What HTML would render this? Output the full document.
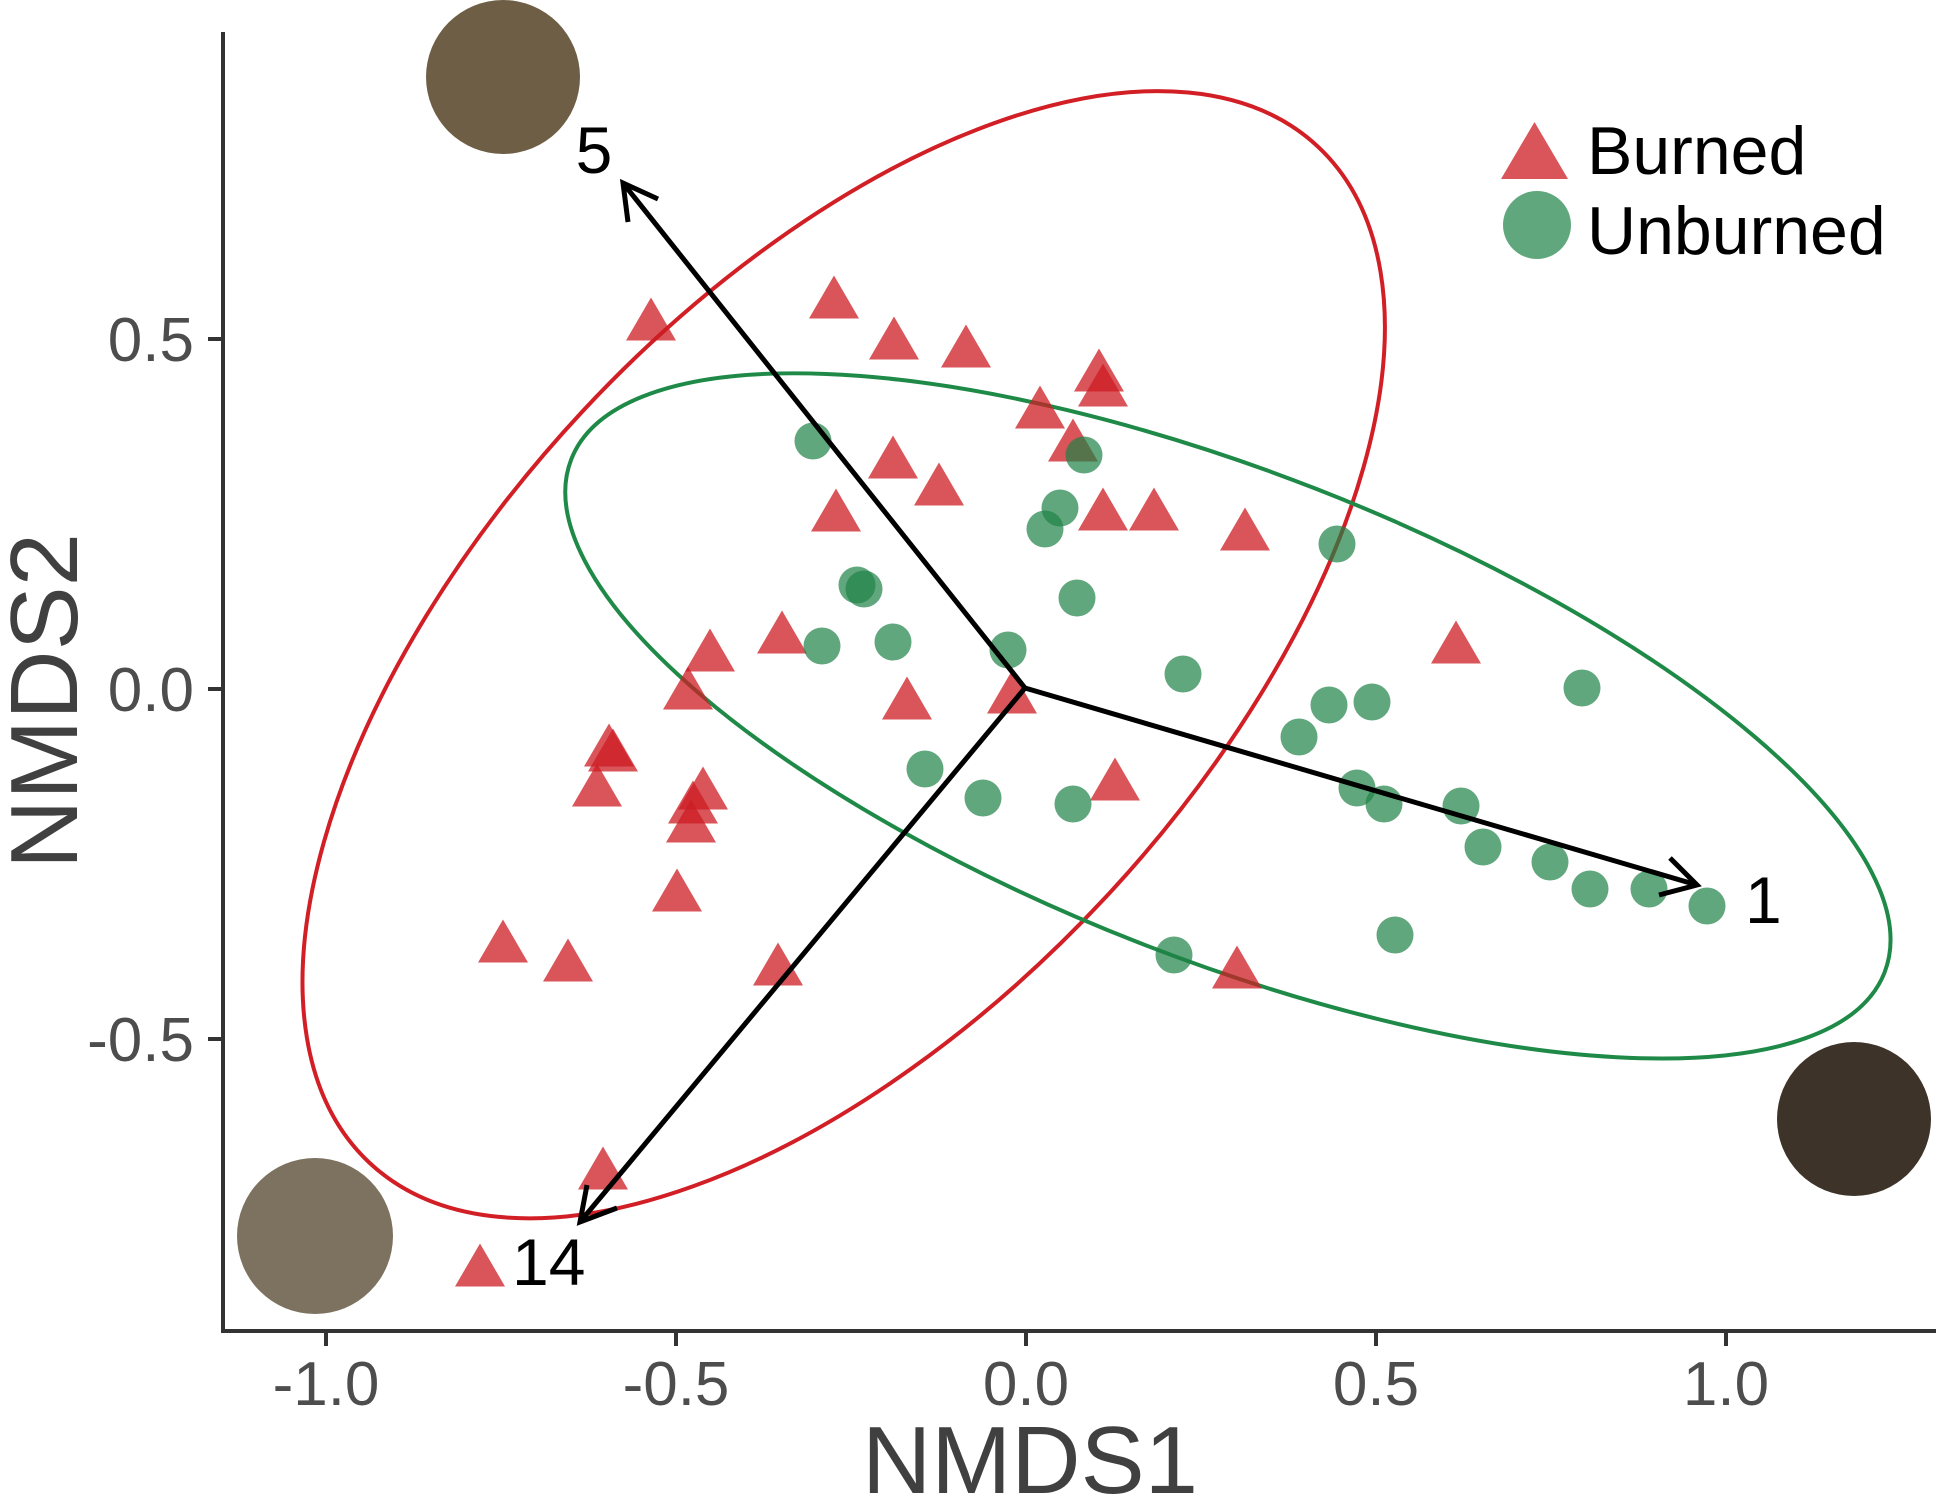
<!DOCTYPE html>
<html>
<head>
<meta charset="utf-8">
<style>
html,body{margin:0;padding:0;background:#fff;}
svg{display:block;}
text{font-family:"Liberation Sans",Arial,sans-serif;}
</style>
</head>
<body>
<svg width="1937" height="1500" viewBox="0 0 1937 1500" xmlns="http://www.w3.org/2000/svg">
<rect x="0" y="0" width="1937" height="1500" fill="#ffffff"/>

<!-- background circles -->
<circle cx="503" cy="77" r="77" fill="#6e5e45"/>
<circle cx="315" cy="1236" r="78" fill="#7d7260"/>
<circle cx="1854" cy="1119" r="77" fill="#3d3328"/>

<!-- ellipses -->
<ellipse cx="843.7" cy="654.7" rx="695" ry="357" transform="rotate(-47 843.7 654.7)" fill="none" stroke="#d21f26" stroke-width="4"/>
<ellipse cx="1227.9" cy="715.9" rx="705" ry="243.6" transform="rotate(21.35 1227.9 715.9)" fill="none" stroke="#1f8a48" stroke-width="4"/>

<!-- triangles (Burned) -->
<g fill="#cc1c23" fill-opacity="0.75">
<polygon points="651,297.5 626,340.5 676,340.5"/>
<polygon points="834,275.5 809,318.5 859,318.5"/>
<polygon points="894,316.5 869,359.5 919,359.5"/>
<polygon points="966,324.5 941,367.5 991,367.5"/>
<polygon points="1099,348.5 1074,391.5 1124,391.5"/>
<polygon points="1103,363.5 1078,406.5 1128,406.5"/>
<polygon points="1040,385.5 1015,428.5 1065,428.5"/>
<polygon points="1073,418.5 1048,461.5 1098,461.5"/>
<polygon points="893,435.5 868,478.5 918,478.5"/>
<polygon points="939,462.5 914,505.5 964,505.5"/>
<polygon points="836,488.5 811,531.5 861,531.5"/>
<polygon points="1103,487.5 1078,530.5 1128,530.5"/>
<polygon points="1154,487.5 1129,530.5 1179,530.5"/>
<polygon points="1245,507.5 1220,550.5 1270,550.5"/>
<polygon points="1456,620.5 1431,663.5 1481,663.5"/>
<polygon points="782,610.5 757,653.5 807,653.5"/>
<polygon points="710,628.5 685,671.5 735,671.5"/>
<polygon points="688,666.5 663,709.5 713,709.5"/>
<polygon points="1012,670.5 987,713.5 1037,713.5"/>
<polygon points="907,676.5 882,719.5 932,719.5"/>
<polygon points="609,723.5 584,766.5 634,766.5"/>
<polygon points="613,728.5 588,771.5 638,771.5"/>
<polygon points="597,763.5 572,806.5 622,806.5"/>
<polygon points="703,766.5 678,809.5 728,809.5"/>
<polygon points="693,780.5 668,823.5 718,823.5"/>
<polygon points="691,799.5 666,842.5 716,842.5"/>
<polygon points="1115,757.5 1090,800.5 1140,800.5"/>
<polygon points="677,868.5 652,911.5 702,911.5"/>
<polygon points="503,919.5 478,962.5 528,962.5"/>
<polygon points="568,938.5 543,981.5 593,981.5"/>
<polygon points="778,942.5 753,985.5 803,985.5"/>
<polygon points="1237,945.5 1212,988.5 1262,988.5"/>
<polygon points="603,1146.5 578,1189.5 628,1189.5"/>
<polygon points="480,1243.5 455,1286.5 505,1286.5"/>
</g>

<!-- circles (Unburned) -->
<g fill="#1e8246" fill-opacity="0.7">
<circle cx="813" cy="441" r="18.5"/>
<circle cx="1084" cy="455" r="18.5"/>
<circle cx="1060" cy="508" r="18.5"/>
<circle cx="1045" cy="529" r="18.5"/>
<circle cx="1337" cy="544" r="18.5"/>
<circle cx="857" cy="585" r="18.5"/>
<circle cx="864" cy="589" r="18.5"/>
<circle cx="1077" cy="598" r="18.5"/>
<circle cx="822" cy="646" r="18.5"/>
<circle cx="893" cy="642" r="18.5"/>
<circle cx="1008" cy="650" r="18.5"/>
<circle cx="1183" cy="674" r="18.5"/>
<circle cx="1582" cy="688" r="18.5"/>
<circle cx="1329" cy="705" r="18.5"/>
<circle cx="1372" cy="702" r="18.5"/>
<circle cx="1299" cy="737" r="18.5"/>
<circle cx="925" cy="769" r="18.5"/>
<circle cx="1357" cy="788" r="18.5"/>
<circle cx="983" cy="798" r="18.5"/>
<circle cx="1073" cy="804" r="18.5"/>
<circle cx="1384" cy="804" r="18.5"/>
<circle cx="1461" cy="806" r="18.5"/>
<circle cx="1483" cy="847" r="18.5"/>
<circle cx="1550" cy="862" r="18.5"/>
<circle cx="1590" cy="889" r="18.5"/>
<circle cx="1649" cy="889" r="18.5"/>
<circle cx="1707" cy="906" r="18.5"/>
<circle cx="1395" cy="935" r="18.5"/>
<circle cx="1174" cy="955" r="18.5"/>
</g>

<!-- arrows -->
<g stroke="#000" stroke-width="5" fill="none" stroke-linecap="butt" stroke-linejoin="miter">
<line x1="1025" y1="688" x2="623" y2="183"/>
<polyline points="658,199 623,183 628,222"/>
<line x1="1025" y1="688" x2="580" y2="1222"/>
<polyline points="587,1185 580,1222 617,1208"/>
<line x1="1025" y1="688" x2="1697" y2="885"/>
<polyline points="1670,858 1697,885 1659,895"/>
</g>
<g fill="#000" font-size="66">
<text x="594" y="173" text-anchor="middle">5</text>
<text x="512" y="1285">14</text>
<text x="1745" y="923">1</text>
</g>

<!-- axes -->
<g stroke="#333333" stroke-width="4" fill="none">
<line x1="223" y1="32" x2="223" y2="1333"/>
<line x1="221" y1="1331" x2="1936" y2="1331"/>
<line x1="208" y1="339" x2="223" y2="339"/>
<line x1="208" y1="689" x2="223" y2="689"/>
<line x1="208" y1="1039" x2="223" y2="1039"/>
<line x1="326" y1="1331" x2="326" y2="1346"/>
<line x1="676" y1="1331" x2="676" y2="1346"/>
<line x1="1026" y1="1331" x2="1026" y2="1346"/>
<line x1="1376" y1="1331" x2="1376" y2="1346"/>
<line x1="1726" y1="1331" x2="1726" y2="1346"/>
</g>
<g fill="#4d4d4d" font-size="62">
<text x="194" y="361" text-anchor="end">0.5</text>
<text x="194" y="711" text-anchor="end">0.0</text>
<text x="194" y="1061" text-anchor="end">-0.5</text>
<text x="326" y="1405" text-anchor="middle">-1.0</text>
<text x="676" y="1405" text-anchor="middle">-0.5</text>
<text x="1026" y="1405" text-anchor="middle">0.0</text>
<text x="1376" y="1405" text-anchor="middle">0.5</text>
<text x="1726" y="1405" text-anchor="middle">1.0</text>
</g>
<text x="1030" y="1493" text-anchor="middle" font-size="96" fill="#404040">NMDS1</text>
<text x="0" y="0" transform="translate(77 701) rotate(-90)" text-anchor="middle" font-size="96" fill="#404040">NMDS2</text>

<!-- legend -->
<polygon points="1534.5,122 1501,179 1568,179" fill="#cc1c23" fill-opacity="0.75"/>
<circle cx="1537" cy="225" r="34" fill="#1e8246" fill-opacity="0.7"/>
<g fill="#000" font-size="68">
<text x="1587" y="174">Burned</text>
<text x="1587" y="254">Unburned</text>
</g>
</svg>
</body>
</html>
